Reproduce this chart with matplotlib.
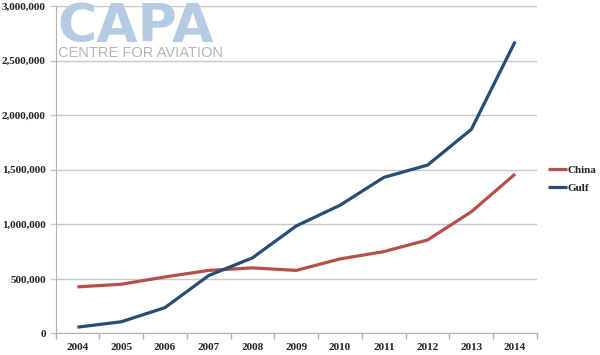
import matplotlib
matplotlib.use("Agg")
import matplotlib.pyplot as plt
import numpy as np
from matplotlib.ticker import FuncFormatter, FixedLocator

years = ["2004", "2005", "2006", "2007", "2008", "2009", "2010", "2011", "2012", "2013", "2014"]
china = [427000, 451000, 518000, 578000, 601000, 578000, 683000, 750000, 857000, 1115000, 1461000]
gulf = [58000, 107000, 237000, 531000, 693000, 985000, 1175000, 1430000, 1543000, 1870000, 2674000]
yticks = [0, 500000, 1000000, 1500000, 2000000, 2500000, 3000000]

fig = plt.figure(figsize=(6.0, 3.55), dpi=100)
ax = fig.add_axes([0.0925, 0.0606, 0.8025, 0.9224])

x = np.arange(len(years))
ax.plot(x, china, color="#b5504a", lw=2.3, label="China", solid_capstyle="butt")
ax.plot(x, gulf, color="#274d73", lw=2.3, label="Gulf", solid_capstyle="butt")

ax.set_xlim(-0.5, len(years) - 0.5)
ax.set_ylim(0, 3000000)
ax.set_yticks(yticks)
ax.yaxis.set_major_formatter(FuncFormatter(lambda v, p: f"{int(v):,}"))
ax.grid(axis="y", color="#c8c8c8", lw=1.0)
ax.set_axisbelow(True)

ax.set_xticks(x)
ax.set_xticklabels(years)
ax.xaxis.set_minor_locator(FixedLocator(np.arange(-0.5, len(years), 1.0)))
ax.tick_params(axis="x", which="major", length=0, pad=6.5)
ax.tick_params(axis="x", which="minor", length=4, color="#b0b0b0", width=1)
ax.tick_params(axis="y", length=4, color="#c8c8c8", width=1, pad=3)

for lab in ax.get_xticklabels() + ax.get_yticklabels():
    lab.set_fontfamily("Liberation Serif")
    lab.set_fontweight("bold")
    lab.set_fontsize(8)
    lab.set_color("#222222")

for s in ["top", "right"]:
    ax.spines[s].set_visible(False)
ax.spines["left"].set_color("#b0b0b0")
ax.spines["bottom"].set_color("#b0b0b0")

leg = fig.legend(loc="upper left", bbox_to_anchor=(548 / 600, 1 - 165 / 355), frameon=False,
                 prop={"family": "Liberation Serif", "weight": "bold", "size": 8},
                 handlelength=1.7, handletextpad=0.1, labelspacing=0.75,
                 borderpad=0, borderaxespad=0)
for t in leg.get_texts():
    t.set_color("#222222")

# logo
fig.text(57 / 600, 1 - 42 / 355, "CAPA", fontsize=38.5, fontweight="bold", family="DejaVu Sans",
         color="#b4cbe3", va="baseline", ha="left")
fig.text(58 / 600, 1 - 57 / 355, "CENTRE FOR AVIATION", fontsize=10.5, family="Liberation Sans",
         color="#b4b4b4", va="baseline", ha="left")

fig.savefig("out.png", dpi=100)
